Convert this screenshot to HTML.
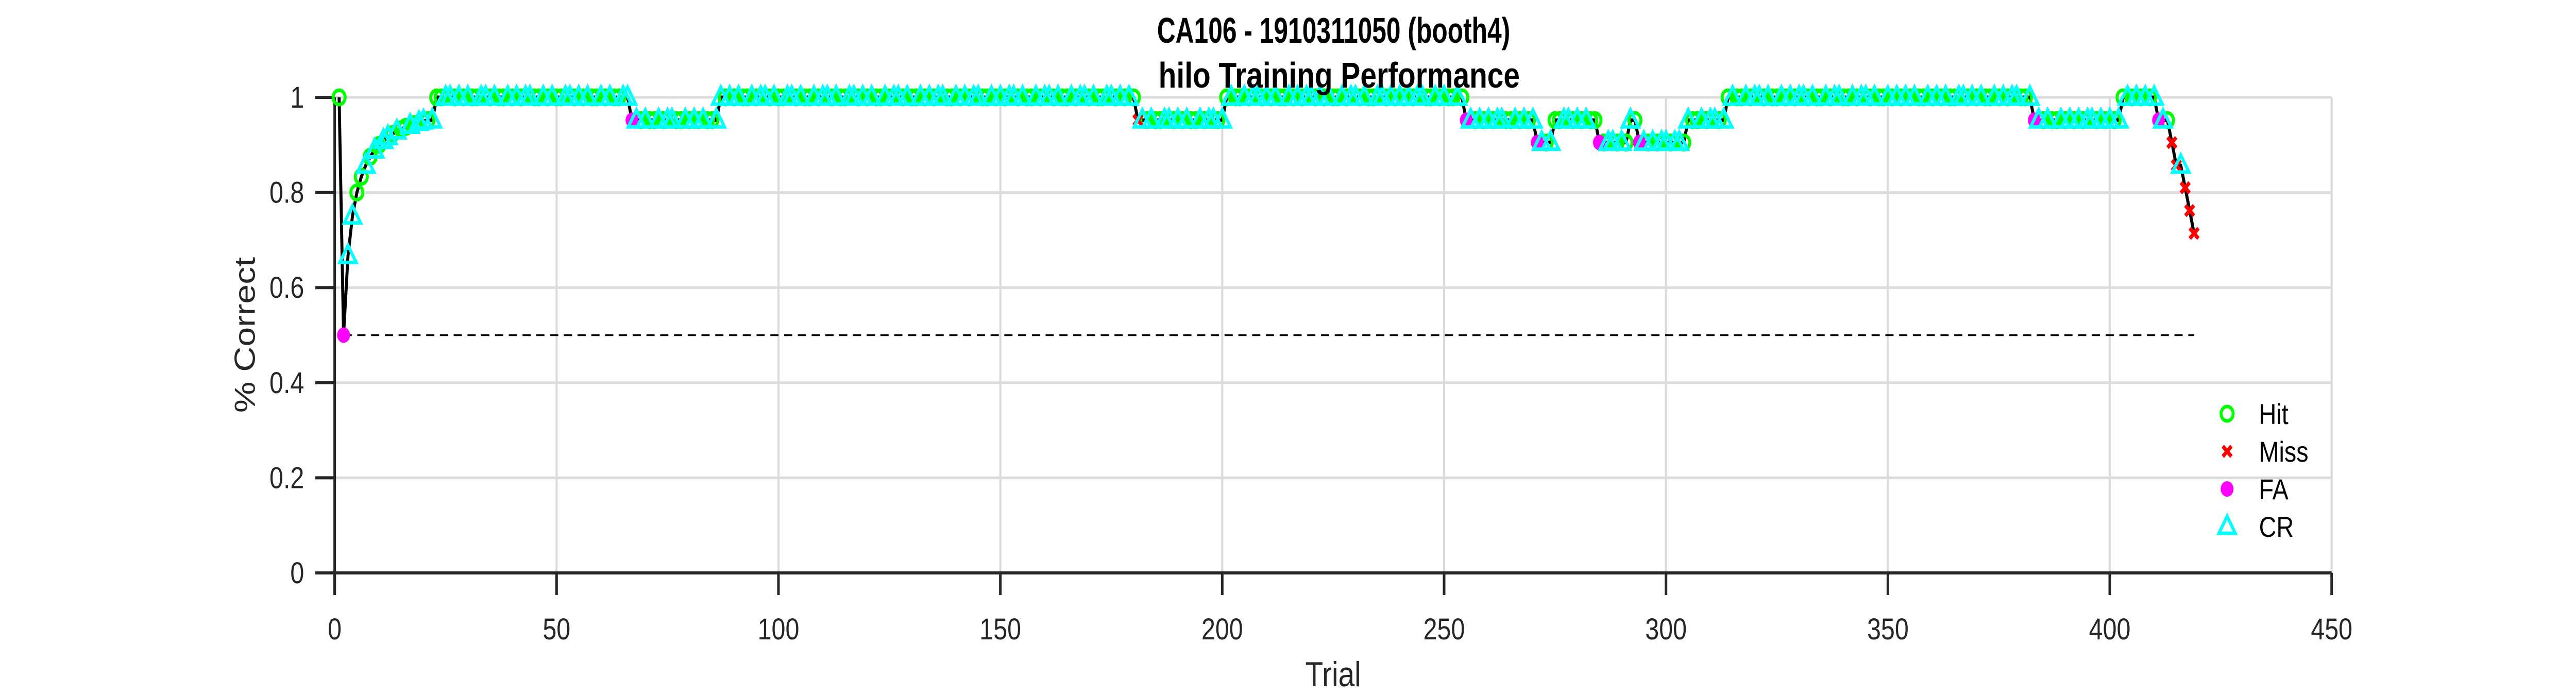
<!DOCTYPE html>
<html><head><meta charset="utf-8"><style>
html,body{margin:0;padding:0;background:#fff;overflow:hidden;width:100%;height:100%;}
svg{display:block;position:absolute;left:0;top:0;width:100vw;height:100vh;font-family:"Liberation Sans",Arial,sans-serif;}
</style></head><body>
<svg id="chart" viewBox="0 0 5988 1347" preserveAspectRatio="none" xmlns="http://www.w3.org/2000/svg">
<rect width="5988" height="1347" fill="#fff"/>
<g id="grid"></g>
<g id="axes"></g>
<g id="plot"></g>
<text x="3100" y="83" text-anchor="middle" font-size="70" font-weight="bold" textLength="821" lengthAdjust="spacingAndGlyphs">CA106 - 1910311050 (booth4)</text>
<text x="3113" y="170" text-anchor="middle" font-size="70" font-weight="bold" textLength="840" lengthAdjust="spacingAndGlyphs">hilo Training Performance</text>
<text x="3099" y="1332" text-anchor="middle" font-size="68" fill="#262626">Trial</text>
<text x="0" y="0" transform="translate(592,650) rotate(-90)" text-anchor="middle" font-size="68" fill="#262626">% Correct</text>
<g id="legend"></g>
</svg>
<script>
const runValues = [1,0.5,0.667,0.75,0.8,0.833,0.857,0.875,0.889,0.9,0.909,0.917,0.923,0.929,0.933,0.938,0.941,0.944,0.947,0.95,0.952,0.952,1,0.952,1,0.952,1,0.952,0.905,0.952,0.905,0.952,0.905,0.952,1,0.952,1,0.952,0.905,0.857,0.857,0.810,0.762,0.714];
const runCounts = [1,1,1,1,1,1,1,1,1,1,1,1,1,1,1,1,1,1,1,1,1,1,44,20,94,20,54,16,4,10,7,2,11,9,69,20,8,3,1,1,1,1,1,1];
const outcomeBase =
 "HFCCHHCHCHCCHCHHCHCC"+"HCHHCCHCHCHHCCHCHHCH"+"CHCCHHCHCHHCCHCHCHHC"+"HCHHCCFCHCHHCHCCHHCH"+
 "CHCHHCCHCHCHHCHCCHCH"+"HCCHCHHCHCCHCHHCCHCH"+"CHHCHCCHCHHCHCHCCHHC"+"HCHCCHHCHCHCCHCHHCHC"+
 "CHCHHCHCCHCHHCCHCHCH"+"MCHCHHCCHCHCHHCHCCHC"+"HCHHCHCCHCHCHHCHCHCC"+"HCHCHHCHCCHCHHCCHCHC"+
 "HCHCCHHCHCHHCHCCHCHC"+"HCCHHCHCHCFCHCHHCCHC"+"HCHHCHCCHCHCHHCHCHCC"+"HCCHCHHCHCCHCHCHHCHC"+
 "CHCHHCHCHCCHCHHCHCCH"+"HCHCCHCHHCHCHCHCHHCH"+"CHCHHCCHCHCHHCHCHCCH"+"HCHCHCHHCHCHCHCCHCHC"+"HCHCHCHCHCHCHCHCHCHC";
const fixTrials = [2,67,181,255,271,285,294,383,411,412,413,414,415,416,417,418,419];
const fixTypes  = ["F","F","M","F","F","F","F","F","F","C","H","M","M","C","M","M","M"];
const xTicks = [0,50,100,150,200,250,300,350,400,450];
const yTicks = [0,0.2,0.4,0.6,0.8,1];
const yTickLabels = ["0","0.2","0.4","0.6","0.8","1"];
const chanceLevel = 0.5;
const chanceRange = [2,419];
const legendLabels = ["Hit","Miss","FA","CR"];

const NS="http://www.w3.org/2000/svg";
const X0=778,X1=5420,Y0=1112,Y1=189;
const xs=v=>X0+(v-0)/(450-0)*(X1-X0);
const ys=v=>Y0-(v-0)/(1-0)*(Y0-Y1);
function mk(tag,attrs,parent){const e=document.createElementNS(NS,tag);for(const k in attrs)e.setAttribute(k,attrs[k]);parent.appendChild(e);return e;}

const perf=[];
runValues.forEach((v,i)=>{for(let k=0;k<runCounts[i];k++)perf.push(v);});
const outcomes=outcomeBase.slice(0,perf.length).split("");
fixTrials.forEach((t,i)=>{outcomes[t-1]=fixTypes[i];});

const grid=document.getElementById("grid"),axes=document.getElementById("axes"),plot=document.getElementById("plot"),legend=document.getElementById("legend");
xTicks.forEach(t=>{if(t===0)return;const l=mk("line",{x1:xs(t),x2:xs(t),y1:Y1,y2:Y0,stroke:"#dcdcdc","stroke-width":5},grid);

});
yTicks.forEach(t=>{if(t===0)return;const l=mk("line",{x1:X0,x2:X1,y1:ys(t),y2:ys(t),stroke:"#dcdcdc","stroke-width":5},grid);

});

const ax=mk("line",{x1:733,x2:X1,y1:Y0,y2:Y0,stroke:"#262626","stroke-width":6},axes);


const ay=mk("line",{x1:X0,x2:X0,y1:Y1,y2:1155,stroke:"#262626","stroke-width":6},axes);


xTicks.forEach(t=>{const tk=mk("line",{x1:xs(t),x2:xs(t),y1:Y0,y2:1155,stroke:"#262626","stroke-width":6},axes);


const tx=mk("text",{x:xs(t),y:1241,"text-anchor":"middle","font-size":58,fill:"#262626"},axes);tx.textContent=t;

});
yTicks.forEach((t,i)=>{const tk=mk("line",{x1:733,x2:X0,y1:ys(t),y2:ys(t),stroke:"#262626","stroke-width":6},axes);


const tx=mk("text",{x:707,y:ys(t)+20,"text-anchor":"end","font-size":58,fill:"#262626"},axes);tx.textContent=yTickLabels[i];

});

const ch=mk("line",{x1:xs(chanceRange[0]),x2:xs(chanceRange[1]),y1:ys(chanceLevel),y2:ys(chanceLevel),stroke:"#000","stroke-width":3.5,"stroke-dasharray":"19 13"},plot);


const pl=mk("polyline",{points:perf.map((v,i)=>xs(i+1)+","+ys(v)).join(" "),fill:"none",stroke:"#000","stroke-width":7,"stroke-linejoin":"round"},plot);



function marker(type,cx,cy,parent){
  let e;
  if(type==="H"){e=mk("circle",{cx:cx,cy:cy,r:14,fill:"none",stroke:"#00ff00","stroke-width":7},parent);}
  else if(type==="M"){e=mk("path",{d:`M${cx-10},${cy-10}L${cx+10},${cy+10}M${cx-10},${cy+10}L${cx+10},${cy-10}`,stroke:"#ff0000","stroke-width":8,fill:"none"},parent);}
  else if(type==="F"){e=mk("circle",{cx:cx,cy:cy,r:15,fill:"#ff00ff"},parent);}
  else {e=mk("path",{d:`M${cx},${cy-20}L${cx+19},${cy+13}L${cx-19},${cy+13}Z`,fill:"none",stroke:"#00ffff","stroke-width":7,"stroke-linejoin":"miter"},parent);}
  return e;
}
["H","M","F","C"].forEach(type=>{
  perf.forEach((v,i)=>{if(outcomes[i]!==type)return;
    const e=marker(type,xs(i+1),ys(v),plot);
    
    
  });
});

const lY=[803,876,949,1022];
["H","M","F","C"].forEach((type,i)=>{
  const m=marker(type,5177,lY[i],legend);
  
  
  const t=mk("text",{x:5251,y:lY[i]+20,"font-size":56,fill:"#000"},legend);t.textContent=legendLabels[i];
  
  
});
</script>
</body></html>
